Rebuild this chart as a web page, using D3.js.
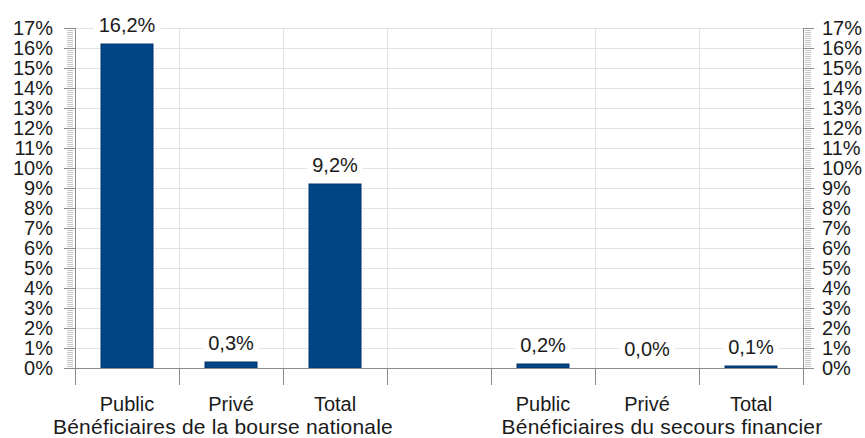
<!DOCTYPE html>
<html>
<head>
<meta charset="utf-8">
<script src="https://cdn.jsdelivr.net/npm/d3@7"></script>
<style>
  html, body { margin: 0; padding: 0; background: #ffffff; }
  svg { display: block; }
  text { font-family: "Liberation Sans", Arial, sans-serif; fill: #1a1a1a; }
</style>
</head>
<body>
<svg id="chart" width="865" height="438"></svg>
<script>
// Share of students per sector, two groups of beneficiaries
const categories = ["Public", "Privé", "Total", "", "Public", "Privé", "Total"];
const values = [16.2, 0.3, 9.2, null, 0.2, 0.0, 0.1];
const groupLabels = ["Bénéficiaires de la bourse nationale", "Bénéficiaires du secours financier"];
const groupSpans = [[0, 2], [4, 6]];
const yTicks = [0, 1, 2, 3, 4, 5, 6, 7, 8, 9, 10, 11, 12, 13, 14, 15, 16, 17];

const svg = d3.select("#chart");
const plotLeft = 75, plotRight = 803, plotTop = 28, plotBottom = 368;
const fontSize = 20;
const groupShift = [-8, 15];

const x = d3.scaleBand()
  .domain(d3.range(categories.length))
  .range([plotLeft, plotRight])
  .paddingInner(0)
  .paddingOuter(0);

const y = d3.scaleLinear().domain([0, 17]).range([plotBottom, plotTop]);

const pct = v => d3.format(".1f")(v).replace(".", ",") + "%";

// Horizontal grid lines
svg.append("g")
  .selectAll("line")
  .data(yTicks)
  .join("line")
  .attr("x1", plotLeft).attr("x2", plotRight)
  .attr("y1", d => Math.round(y(d)) + 0.5).attr("y2", d => Math.round(y(d)) + 0.5)
  .attr("stroke", "#e3e3e3");

// Vertical grid lines at category boundaries
const bounds = d3.range(categories.length + 1).map(i => plotLeft + i * x.step());
svg.append("g")
  .selectAll("line")
  .data(bounds.slice(1, -1))
  .join("line")
  .attr("x1", d => Math.round(d) + 0.5).attr("x2", d => Math.round(d) + 0.5)
  .attr("y1", plotTop).attr("y2", plotBottom)
  .attr("stroke", "#e3e3e3");

// Minor ticks every 0.1 %
const minor = d3.range(0, 170).map(i => i / 10).filter(v => Math.abs(v - Math.round(v)) > 1e-6);

function yAxis(side) {
  const ax = side === "left" ? plotLeft : plotRight;
  const dir = side === "left" ? -1 : 1;
  const g = svg.append("g");
  g.selectAll("line.minor")
    .data(minor)
    .join("line")
    .attr("class", "minor")
    .attr("x1", ax + dir * 2).attr("x2", ax + dir * 8)
    .attr("y1", d => Math.round(y(d)) + 0.5).attr("y2", d => Math.round(y(d)) + 0.5)
    .attr("stroke", "#c4c4c4");
  g.selectAll("line.major")
    .data(yTicks)
    .join("line")
    .attr("class", "major")
    .attr("x1", ax).attr("x2", ax + dir * 11)
    .attr("y1", d => Math.round(y(d)) + 0.5).attr("y2", d => Math.round(y(d)) + 0.5)
    .attr("stroke", "#8c8c8c");
  g.append("line")
    .attr("x1", ax + 0.5).attr("x2", ax + 0.5)
    .attr("y1", plotTop).attr("y2", plotBottom)
    .attr("stroke", "#8c8c8c");
  g.selectAll("text")
    .data(yTicks)
    .join("text")
    .attr("x", side === "left" ? 53 : 822)
    .attr("y", d => y(d))
    .attr("dy", "0.36em")
    .attr("text-anchor", side === "left" ? "end" : "start")
    .attr("font-size", fontSize)
    .text(d => d + "%");
}
yAxis("left");
yAxis("right");

// Bars
svg.append("g")
  .selectAll("rect")
  .data(values.map((v, i) => ({ v, i })).filter(d => d.v !== null))
  .join("rect")
  .attr("x", d => x(d.i) + x.bandwidth() / 4)
  .attr("width", x.bandwidth() / 2)
  .attr("y", d => y(d.v))
  .attr("height", d => y(0) - y(d.v))
  .attr("fill", "#004586")
  .attr("stroke", "#00356a")
  .attr("stroke-width", 1);

// Baseline and category ticks
svg.append("line")
  .attr("x1", plotLeft).attr("x2", plotRight)
  .attr("y1", plotBottom + 0.5).attr("y2", plotBottom + 0.5)
  .attr("stroke", "#8c8c8c");
svg.append("g")
  .selectAll("line")
  .data(bounds)
  .join("line")
  .attr("x1", d => Math.round(d) + 0.5).attr("x2", d => Math.round(d) + 0.5)
  .attr("y1", plotBottom).attr("y2", plotBottom + 17)
  .attr("stroke", "#8c8c8c");

// Value labels with white background
const labels = svg.append("g")
  .selectAll("g")
  .data(values.map((v, i) => ({ v, i })).filter(d => d.v !== null))
  .join("g");
labels.append("text")
  .attr("x", d => x(d.i) + x.bandwidth() / 2)
  .attr("y", d => y(d.v) - 12)
  .attr("text-anchor", "middle")
  .attr("font-size", fontSize)
  .text(d => pct(d.v));
labels.each(function () {
  const t = d3.select(this).select("text");
  const b = t.node().getBBox();
  d3.select(this).insert("rect", "text")
    .attr("x", b.x - 5).attr("y", b.y + 2)
    .attr("width", b.width + 10).attr("height", b.height - 4)
    .attr("fill", "#ffffff");
});

// Category labels
svg.append("g")
  .selectAll("text")
  .data(categories.map((c, i) => ({ c, i })).filter(d => d.c))
  .join("text")
  .attr("x", d => x(d.i) + x.bandwidth() / 2)
  .attr("y", 411)
  .attr("text-anchor", "middle")
  .attr("font-size", fontSize)
  .text(d => d.c);

// Group labels
svg.append("g")
  .selectAll("text")
  .data(groupLabels.map((g, i) => ({ g, i, span: groupSpans[i] })))
  .join("text")
  .attr("x", d => (x(d.span[0]) + x(d.span[1]) + x.bandwidth()) / 2 + groupShift[d.i])
  .attr("y", 434)
  .attr("text-anchor", "middle")
  .attr("font-size", 21)
  .attr("letter-spacing", 0.2)
  .text(d => d.g);
</script>
</body>
</html>
